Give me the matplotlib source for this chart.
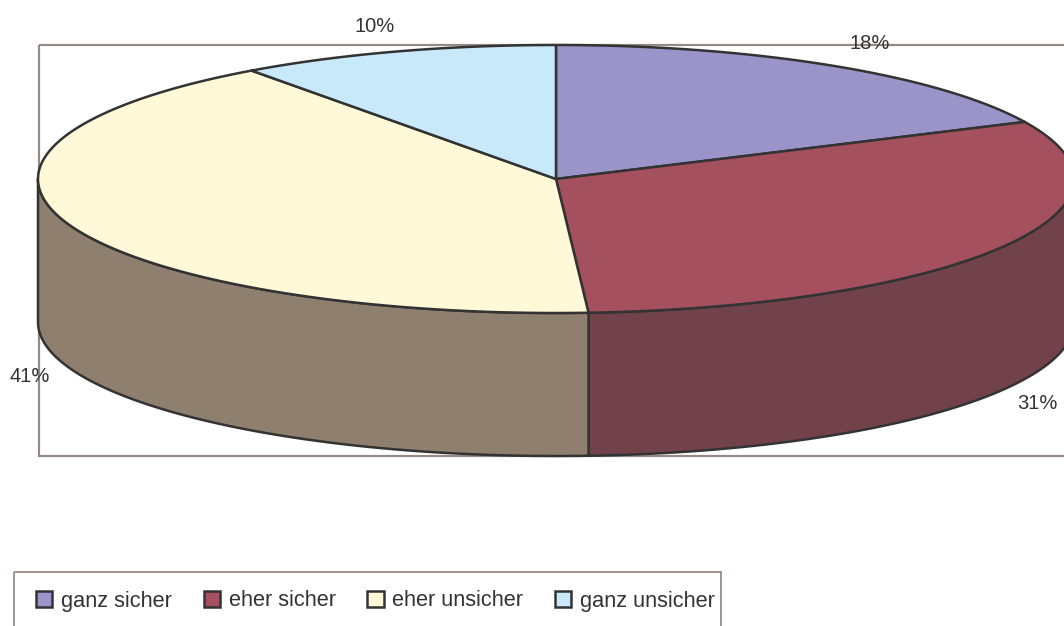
import numpy as np
import matplotlib
matplotlib.use("Agg")
import matplotlib.pyplot as plt
from matplotlib.patches import Polygon, Rectangle, Patch

plt.rcParams['font.family'] = ['Liberation Sans', 'DejaVu Sans']

# Daten
labels = ['ganz sicher', 'eher sicher', 'eher unsicher', 'ganz unsicher']
values = [18, 31, 41, 10]

# Farben (Oberseite / Seitenwand)
top_colors = ['#9A94C8', '#A5505F', '#FFF9D8', '#C7E9F9']
side_colors = ['#625C86', '#71424A', '#8E7F6E', '#82A0AE']
edge = '#333333'

# Geometrie der Torte in Pixeln
cx, cy = 556, 179
rx, ry = 518, 134
depth = 143


def ell(a):
    a = np.radians(a)
    return cx + rx * np.cos(a), cy - ry * np.sin(a)


def arc(a1, a2, dy=0.0, n=200):
    t = np.linspace(a1, a2, n)
    x, y = ell(t)
    return np.column_stack([x, y + dy])


fig = plt.figure(figsize=(10.64, 6.26), dpi=100)
ax = fig.add_axes([0, 0, 1, 1])
ax.set_xlim(0, 1064)
ax.set_ylim(626, 0)
ax.axis('off')

# Rahmen der Zeichenfläche
ax.add_patch(Rectangle((39, 45), 1035, 411, fill=False, ec='#968B84', lw=1.6, zorder=0))

frac = np.array(values) / sum(values)
ends = 90 - np.cumsum(frac) * 360
starts = np.concatenate([[90], ends[:-1]])

# Seitenwand (nur vordere Hälfte, Winkel -180..0)
for i in range(len(values)):
    lo, hi = ends[i], starts[i]
    for k in (-360, 0, 360):
        a1 = max(lo + k, -180)
        a2 = min(hi + k, 0)
        if a2 > a1:
            top = arc(a1, a2)
            bot = arc(a2, a1, dy=depth)
            ax.add_patch(Polygon(np.vstack([top, bot]), closed=True, fc=side_colors[i],
                                 ec=edge, lw=1.8, joinstyle='round', zorder=2))

# Oberseite
for i in range(len(values)):
    pts = np.vstack([[cx, cy], arc(starts[i], ends[i])])
    ax.add_patch(Polygon(pts, closed=True, fc=top_colors[i], ec=edge, lw=1.8,
                         joinstyle='round', zorder=3))

# Prozentbeschriftungen
for i in range(len(values)):
    m = np.radians((starts[i] + ends[i]) / 2)
    if np.sin(m) < 0:
        x = cx + rx * 1.08 * np.cos(m)
        y = cy - ry * 1.2 * np.sin(m) + depth
    else:
        x = cx + rx * 1.13 * np.cos(m)
        y = cy - ry * 1.2 * np.sin(m)
    ax.text(x, y, f'{values[i]}%', ha='center', va='center', fontsize=14.5,
            color='#333333', zorder=4)

# Legende
ax.add_patch(Rectangle((14, 572), 707, 80, fill=False, ec='#968B84', lw=1.3,
                       clip_on=False, zorder=1))
handles = [Patch(fc=top_colors[i], ec=edge, lw=1.8) for i in range(len(values))]
leg = ax.legend(handles, labels, ncol=4, frameon=False, fontsize=15.7,
                loc='center left', bbox_to_anchor=(36 / 1064, 1 - 601 / 626),
                handlelength=0.75, handleheight=0.75, handletextpad=0.4,
                columnspacing=1.45, borderpad=0, borderaxespad=0)
for t in leg.get_texts():
    t.set_color('#333333')

fig.savefig('out.png', dpi=100)
